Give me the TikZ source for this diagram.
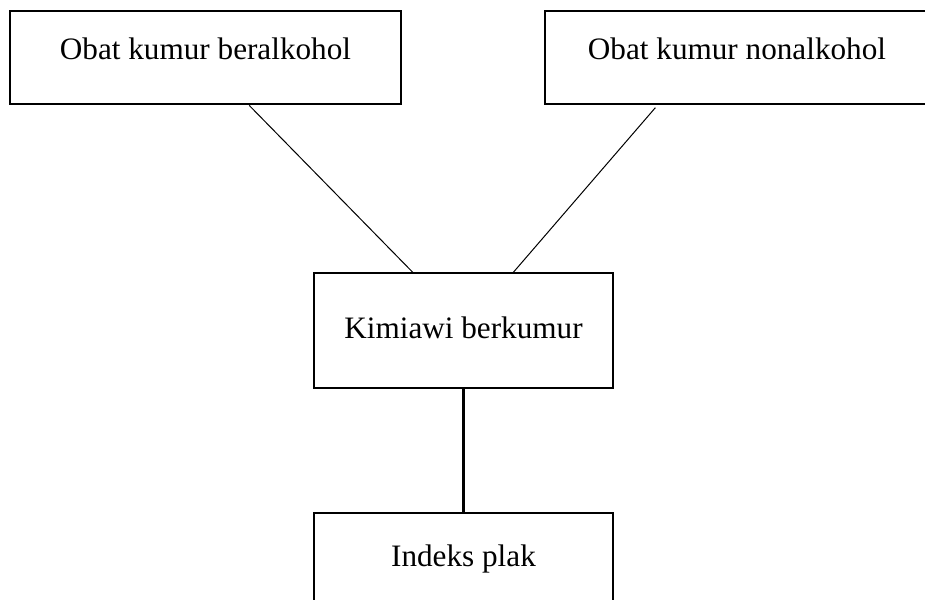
\documentclass[tikz,border=0pt]{standalone}
\usepackage{fontspec}
\setmainfont{Liberation Serif}
\usetikzlibrary{calc}
\begin{document}
\begin{tikzpicture}[x=0.5pt, y=-0.5pt,
  topbox/.style={draw, line width=1.4pt, inner sep=0pt, minimum height=46.5pt,
    font=\fontsize{15.6}{18}\selectfont, text height=11pt, text depth=8.5pt},
  midbox/.style={draw, line width=0.7pt, inner sep=0pt, minimum width=149.5pt,
    font=\fontsize{15.6}{18}\selectfont, text height=11pt, text depth=3.5pt}]
  \useasboundingbox (0,0) rectangle (925,599);
  \node[topbox, minimum width=195.5pt] (alk) at (205.5,57.5) {Obat kumur beralkohol};
  \node[topbox, minimum width=192pt] (nonalk) at (737,57.5) {Obat kumur nonalkohol};
  \node[midbox, minimum height=57.5pt] (kim) at (463.5,330.5) {Kimiawi berkumur};
  \node[midbox, minimum height=45.5pt] (plak) at (463.5,558.5) {Indeks plak};
  \draw[line width=0.5pt] ($(alk.south west)!0.611!(alk.south east)$) -- ($(kim.north west)!0.331!(kim.north east)$);
  \draw[line width=0.5pt, shorten <=1.5pt] ($(nonalk.south west)!0.294!(nonalk.south east)$) -- ($(kim.north west)!0.666!(kim.north east)$);
  \draw[line width=1.4pt] (kim.south) -- (plak.north);
\end{tikzpicture}
\end{document}
